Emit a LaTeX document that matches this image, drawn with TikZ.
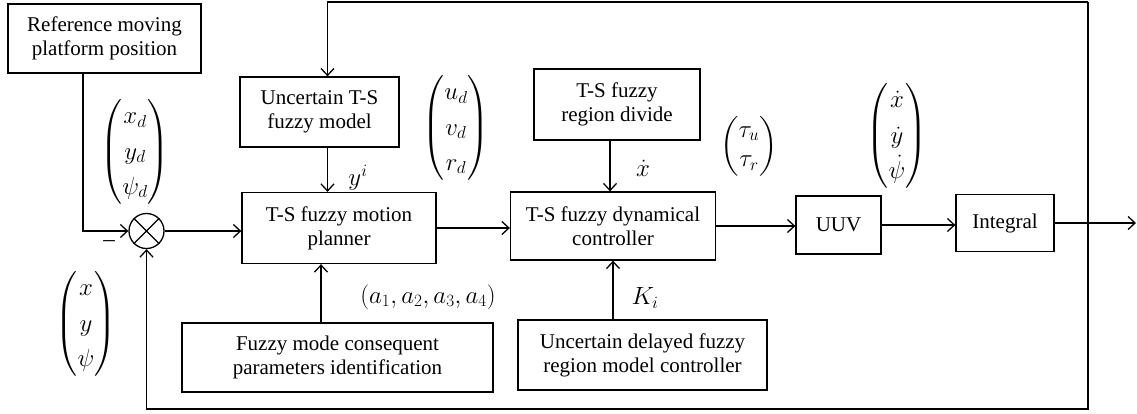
\documentclass[tikz,border=0pt]{standalone}
\usepackage{amsmath}
\usepackage{fontspec}
\setmainfont{Liberation Serif}
\usetikzlibrary{arrows.meta}

\begin{document}
\begin{tikzpicture}[x=1pt, y=-1pt, >={Straight Barb[length=7pt,width=13pt]}, line width=1.3pt]
        \tikzstyle{block}=[draw, rectangle, inner sep=0pt, align=center, font=\fontsize{21}{24}\selectfont]
        \tikzstyle{sig}=[inner sep=0pt, font=\fontsize{23}{27}\selectfont]
        \useasboundingbox (0,0) rectangle (1137,413);

        % blocks
        \node[block, minimum width=193pt, minimum height=69pt] (ref) at (104.5,38.5) {Reference moving\\platform position};
        \node[draw, circle, minimum size=35pt, inner sep=0pt] (sum) at (146.5,231) {};
        \draw (sum.north west) -- (sum.south east) (sum.north east) -- (sum.south west);
        \node[block, minimum width=159pt, minimum height=70pt] (model) at (319.5,112) {Uncertain T-S\\fuzzy model};
        \node[block, minimum width=194pt, minimum height=71pt] (planner) at (339,228) {T-S fuzzy motion\\planner};
        \node[block, minimum width=311pt, minimum height=69pt] (ident) at (337.5,357.5) {Fuzzy mode consequent\\parameters identification};
        \node[block, minimum width=166pt, minimum height=71pt] (region) at (617,104.5) {T-S fuzzy\\region divide};
        \node[block, minimum width=205pt, minimum height=68pt] (dyn) at (613,226) {T-S fuzzy dynamical\\controller};
        \node[block, minimum width=249pt, minimum height=70pt] (delay) at (642.5,355) {Uncertain delayed fuzzy\\region model controller};
        \node[block, minimum width=85pt, minimum height=58pt] (uuv) at (838.5,225) {UUV};
        \node[block, minimum width=98pt, minimum height=57pt] (integral) at (1005,223) {Integral};

        % signal labels
        \renewcommand{\arraystretch}{1.3}
        \node[sig] (xd) at (135,152) {$\begin{pmatrix} x_d\\ y_d\\ \psi_d \end{pmatrix}$};
        \node[sig] (xyz) at (86,324) {$\begin{pmatrix} x\\ y\\ \psi \end{pmatrix}$};
        \node[sig] (ud) at (456,128) {$\begin{pmatrix} u_d\\ v_d\\ r_d \end{pmatrix}$};
        \node[sig] (vel) at (897,136) {$\begin{pmatrix} \dot{x}\\ \dot{y}\\ \dot{\psi} \end{pmatrix}$};
        \node[sig] (tau) at (749,146) {\renewcommand{\arraystretch}{1.1}$\begin{pmatrix} \tau_u\\ \tau_r \end{pmatrix}$};
        \node[sig] (yi) at (358,178) {$y^i$};
        \node[sig] (xdot) at (643,168) {$\dot{x}$};
        \node[sig] (ki) at (645,298) {$K_i$};
        \node[sig] (par) at (428,297) {$\left(a_1, a_2, a_3, a_4\right)$};
        \node[sig] (minus) at (109,244) {--};

        % connectors
        \coordinate (fbtop) at (1088,2);
        \coordinate (fbbot) at (1088,409);
        \coordinate (out) at (1136,223);
        \draw[->] ([xshift=-21.5pt]ref.south) |- (sum.west);
        \draw[->] (sum.east) -- (sum.east -| planner.west);
        \draw[->] ([xshift=8pt]model.south) -- ([xshift=8pt]model.south |- planner.north);
        \draw[->] ([xshift=-16.5pt]ident.north) -- ([xshift=-16.5pt]ident.north |- planner.south);
        \draw[->] (planner.east) -- (planner.east -| dyn.west);
        \draw[->] ([xshift=-7pt]region.south) -- ([xshift=-7pt]region.south |- dyn.north);
        \draw[->] ([xshift=-29.5pt]delay.north) -- ([xshift=-29.5pt]delay.north |- dyn.south);
        \draw[->] (dyn.east) -- (dyn.east -| uuv.west);
        \draw[->] (uuv.east) -- (uuv.east -| integral.west);
        \draw[->] (integral.east) -- (out);
        \draw[->] (fbtop) -| ([xshift=8pt]model.north);
        \draw[->] (fbtop) -- (fbbot) -| (sum.south);
    \end{tikzpicture}
\end{document}
